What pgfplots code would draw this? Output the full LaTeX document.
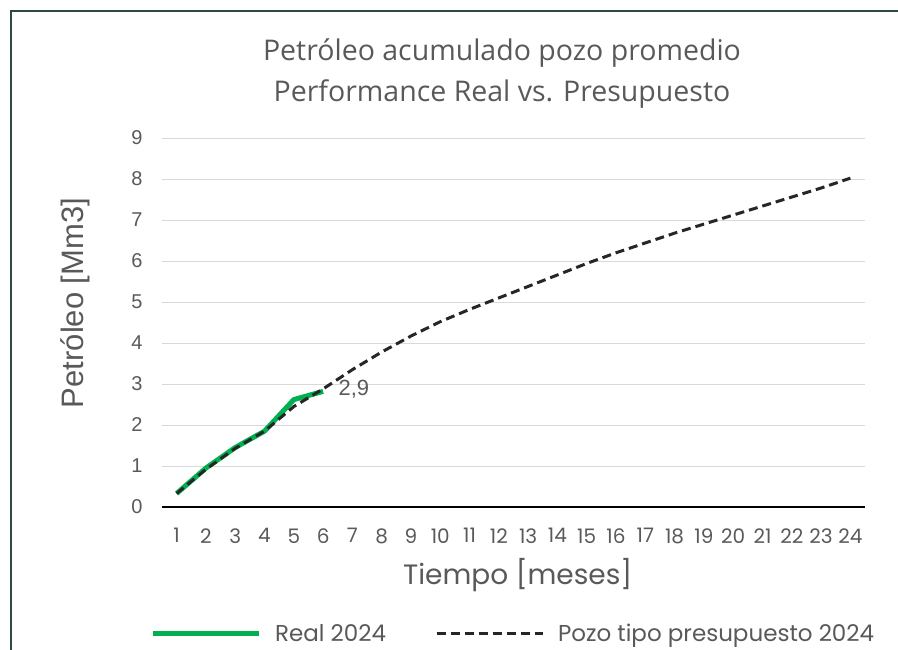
\documentclass[border=0pt]{standalone}
\usepackage{pgfplots}
\pgfplotsset{compat=1.18}
\usepackage{fontspec}
\setmainfont{Poppins}
\newfontfamily\titlefont{Open Sans}
\newfontfamily\arialfont{Liberation Sans}
\definecolor{realgreen}{HTML}{00B050}
\definecolor{dashblack}{HTML}{262626}
\definecolor{txtgrey}{HTML}{595959}
\definecolor{framegreen}{HTML}{2B4A40}
\definecolor{gridgrey}{HTML}{D9D9D9}
\begin{document}
\begin{tikzpicture}[x=1pt,y=1pt]
\begin{axis}[
  at={(162pt,142pt)}, anchor=south west,
  scale only axis, width=703pt, height=369pt,
  xmin=0.5, xmax=24.5, ymin=0, ymax=9,
  xtick={1,...,24}, ytick={0,...,9},
  axis x line*=bottom, axis y line*=left,
  x axis line style={-, black, line width=1.2pt},
  y axis line style={draw=none},
  xtick style={draw=none}, ytick style={draw=none},
  ymajorgrids, grid style={gridgrey, line width=1pt},
  major tick length=0pt,
  xticklabel style={font=\fontsize{20}{20}\selectfont, text=txtgrey, yshift=-18pt},
  yticklabel style={font=\arialfont\fontsize{20}{20}\selectfont, text=txtgrey, xshift=-16pt},
  /pgf/number format/assume math mode=true,
  xlabel={Tiempo [meses]}, ylabel={Petróleo [Mm3]},
  xlabel style={font=\fontsize{28}{28}\selectfont, text=txtgrey,
    at={(axis description cs:0.506,-0.184)}, anchor=center},
  ylabel style={font=\arialfont\fontsize{31}{31}\selectfont, text=txtgrey,
    at={(axis description cs:-0.124,0.553)}, anchor=center},
  legend columns=2,
  legend style={at={(0.4995,-0.344)}, anchor=center, draw=none, fill=none,
    font=\fontsize{23}{23}\selectfont, text=txtgrey,
    /tikz/every odd column/.append style={column sep=12pt},
    /tikz/every even column/.append style={column sep=47pt}},
  legend image code/.code={\draw[#1] (0pt,0pt) -- (106pt,0pt);},
  clip=false,
]
\addplot[realgreen, line width=5pt, line join=round] coordinates {
  (1,0.33) (2,0.95) (3,1.45) (4,1.85) (5,2.62) (6,2.82)};
\addlegendentry{Real 2024}
\addplot[dashblack, line width=3pt, dash pattern=on 9pt off 5pt] coordinates {
  (1,0.33) (2,0.92) (3,1.43) (4,1.85) (5,2.45) (6,2.88) (7,3.35) (8,3.78)
  (9,4.17) (10,4.52) (11,4.82) (12,5.10) (13,5.38) (14,5.66) (15,5.94)
  (16,6.20) (17,6.44) (18,6.68) (19,6.90) (20,7.12) (21,7.34) (22,7.56)
  (23,7.78) (24,8.02)};
\addlegendentry{Pozo tipo presupuesto 2024}
\node[anchor=west, text=txtgrey, font=\arialfont\fontsize{22}{22}\selectfont] at (axis cs:6,2.82) [xshift=12pt, yshift=2pt] {2,9};
\end{axis}
\node[text=txtgrey, font=\titlefont\fontsize{28.5}{28.5}\selectfont] at (502pt,596pt) {Petróleo acumulado pozo promedio};
\node[text=txtgrey, font=\titlefont\fontsize{28.5}{28.5}\selectfont] at (502pt,555pt) {Performance Real vs. Presupuesto};
\draw[framegreen, line width=1.5pt] (11pt,-10pt) -- (11pt,638pt) -- (910pt,638pt);
\pgfresetboundingbox
\useasboundingbox (0pt,0pt) rectangle (898pt,649pt);
\end{tikzpicture}
\end{document}
